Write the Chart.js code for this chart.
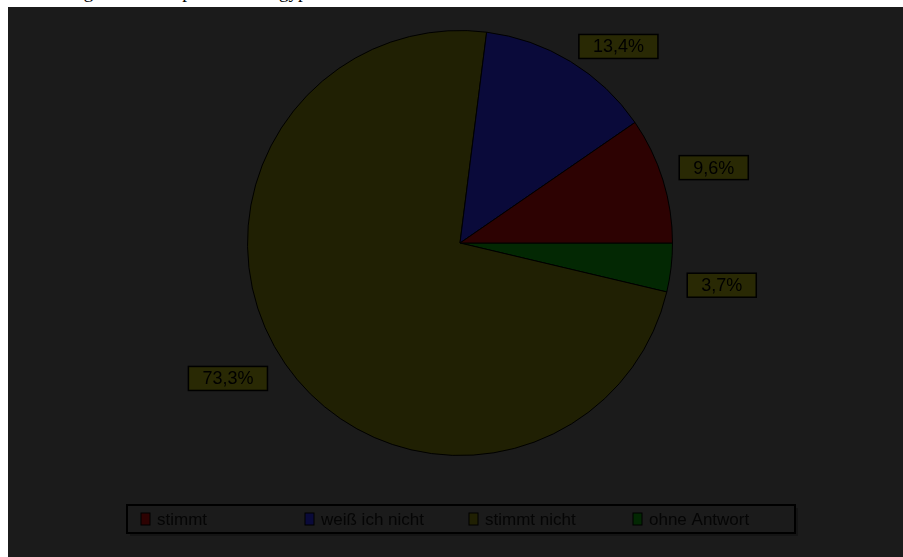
<!DOCTYPE html>
<html lang="de">
<head>
<meta charset="utf-8">
<script src="https://cdn.jsdelivr.net/npm/chart.js@4.4.1/dist/chart.umd.min.js"></script>
<style>
  html, body { margin: 0; padding: 0; background: #ffffff; width: 903px; height: 557px; overflow: hidden; }
  #headline {
    position: absolute; left: 0; top: 0; width: 903px; height: 7px; overflow: hidden;
  }
  #headline span {
    position: absolute; left: 14px; top: -19px; white-space: nowrap;
    font-family: "Liberation Serif", "DejaVu Serif", serif; font-size: 19px; color: #000;
  }
  #wrap { position: absolute; left: 8px; top: 7px; width: 895px; height: 550px; }
</style>
</head>
<body>
<div id="headline"><span>Förderung ist ein Beispiel für die ägyptische Gesellschaft an erster Stelle</span></div>
<div id="wrap"><canvas id="pie" width="895" height="550"></canvas></div>
<script>
// Survey answers and their shares in percent
const categories = ['stimmt', 'weiß ich nicht', 'stimmt nicht', 'ohne Antwort'];
const shares = [9.6, 13.4, 73.3, 3.7];
const sliceColors = ['#2d0202', '#0a0a3a', '#202003', '#032803'];

// Slices run counter-clockwise from three o'clock, so feed them to Chart.js reversed
const order = categories.map((_, i) => i).reverse();

// Small pixel nudges for the value boxes, per category
const labelNudge = {
  'stimmt': [5, 2],
  'weiß ich nicht': [23, 26],
  'stimmt nicht': [-18, -13],
  'ohne Antwort': [3, 12]
};

const fmt = v => v.toFixed(1).replace('.', ',') + '%';

const backdrop = {
  id: 'backdrop',
  beforeDraw(chart) {
    const { ctx, width, height } = chart;
    ctx.save();
    ctx.fillStyle = '#1b1b1b';
    ctx.fillRect(0, 0, width, height);
    ctx.restore();
  }
};

const valueBoxes = {
  id: 'valueBoxes',
  afterDatasetsDraw(chart) {
    const { ctx } = chart;
    const meta = chart.getDatasetMeta(0);
    ctx.save();
    ctx.font = '18px "Liberation Sans", Arial, sans-serif';
    ctx.textAlign = 'center';
    ctx.textBaseline = 'middle';
    meta.data.forEach((arc, k) => {
      const cat = chart.data.labels[k];
      const val = chart.data.datasets[0].data[k];
      const p = arc.getProps(['x', 'y', 'startAngle', 'endAngle', 'outerRadius'], true);
      const mid = (p.startAngle + p.endAngle) / 2;
      const d = p.outerRadius + 48;
      const n = labelNudge[cat] || [0, 0];
      const cx = p.x + Math.cos(mid) * d + n[0];
      const cy = p.y + Math.sin(mid) * d + n[1];
      const text = fmt(val);
      const w = ctx.measureText(text).width + 28;
      const h = 24;
      ctx.fillStyle = '#292904';
      ctx.fillRect(cx - w / 2, cy - h / 2, w, h);
      ctx.strokeStyle = '#000000';
      ctx.lineWidth = 1.5;
      ctx.strokeRect(cx - w / 2, cy - h / 2, w, h);
      ctx.fillStyle = '#000000';
      ctx.fillText(text, cx, cy + 1);
    });
    ctx.restore();
  }
};

const boxedLegend = {
  id: 'boxedLegend',
  afterDraw(chart) {
    const { ctx } = chart;
    const left = 119, top = 498, right = 787, bottom = 526;
    ctx.save();
    // frame with a soft drop shadow
    ctx.fillStyle = '#141414';
    ctx.fillRect(left + 3, top + 3, right - left, bottom - top);
    ctx.fillStyle = '#1b1b1b';
    ctx.fillRect(left, top, right - left, bottom - top);
    ctx.strokeStyle = '#000000';
    ctx.lineWidth = 2;
    ctx.strokeRect(left, top, right - left, bottom - top);
    ctx.font = '17px "Liberation Sans", Arial, sans-serif';
    ctx.textBaseline = 'middle';
    ctx.textAlign = 'left';
    const cy = (top + bottom) / 2;
    categories.forEach((cat, i) => {
      const x = 133 + i * 164;
      ctx.fillStyle = sliceColors[i];
      ctx.fillRect(x, cy - 6, 9, 12);
      ctx.strokeStyle = '#000000';
      ctx.lineWidth = 1;
      ctx.strokeRect(x, cy - 6, 9, 12);
      ctx.fillStyle = '#050505';
      ctx.fillText(cat, x + 16, cy + 1);
    });
    ctx.restore();
  }
};

new Chart(document.getElementById('pie'), {
  type: 'pie',
  data: {
    labels: order.map(i => categories[i]),
    datasets: [{
      data: order.map(i => shares[i]),
      backgroundColor: order.map(i => sliceColors[i]),
      borderColor: '#000000',
      borderWidth: 1
    }]
  },
  options: {
    responsive: false,
    animation: false,
    rotation: 90,
    layout: { padding: { left: 9, right: 0, top: 23, bottom: 101 } },
    plugins: {
      legend: { display: false },
      tooltip: { enabled: false },
      title: { display: false }
    }
  },
  plugins: [backdrop, valueBoxes, boxedLegend]
});
</script>
</body>
</html>
